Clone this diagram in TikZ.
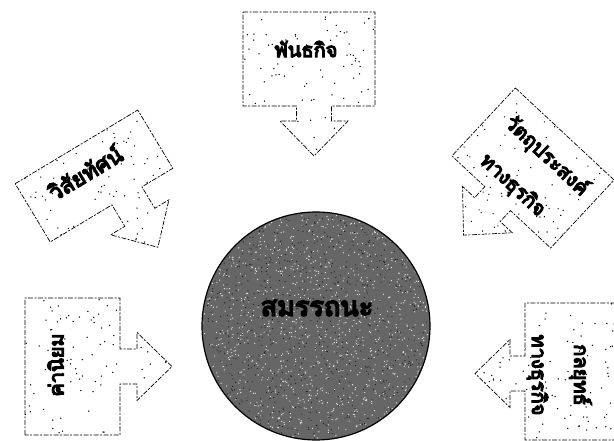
\documentclass[tikz,border=0pt]{standalone}
\usepackage{fontspec}
\newfontfamily\thaifont[Script=Thai, FakeBold=6]{Loma}
\tikzset{
  boxline/.style={draw=black, line width=0.7pt, dash pattern=on 5pt off 1.5pt on 2pt off 1.5pt},
  lbl/.style={font=\thaifont\fontsize{20}{22}\selectfont, inner sep=0pt},
  biglbl/.style={font=\thaifont\fontsize{27}{29}\selectfont, inner sep=0pt},
}
% #1 W, #2 H, #3 arrow offset, #4 shaft length
\newcommand\arrowpath[4]{({-(#1)/2},{(#2)/2}) -- ({(#1)/2},{(#2)/2}) -- ({(#1)/2},{-(#2)/2})
  -- ({(#3)+17.5},{-(#2)/2}) -- ({(#3)+17.5},{-(#2)/2-(#4)}) -- ({(#3)+34},{-(#2)/2-(#4)})
  -- ({#3},{-(#2)/2-(#4)-35}) -- ({(#3)-34},{-(#2)/2-(#4)}) -- ({(#3)-17.5},{-(#2)/2-(#4)})
  -- ({(#3)-17.5},{-(#2)/2}) -- ({-(#1)/2},{-(#2)/2}) -- cycle}
\newcommand\ArrowBox[4]{%
  \begin{scope}
    \clip \arrowpath{#1}{#2}{#3}{#4};
    \foreach \i in {1,...,110}{%
      \fill ({rand*(#1)/2},{-((#4)+35)/2+rand*((#2)/2+((#4)+35)/2)}) circle (0.75pt);}
  \end{scope}
  \draw[boxline] \arrowpath{#1}{#2}{#3}{#4};
}
\begin{document}
\begin{tikzpicture}[x=1pt,y=1pt]
\useasboundingbox (0,0) rectangle (614,441);
\pgfmathsetseed{4711}

% centre circle
\coordinate (core) at (316,115);
\fill[black!60] (core) circle (114pt);
\begin{scope}
  \clip (core) circle (113pt);
  \foreach \i in {1,...,1300}{\fill[white!92!black] ({316+rand*114},{115+rand*114}) circle (0.65pt);}
  \foreach \i in {1,...,900}{\fill[black!90] ({316+rand*114},{115+rand*114}) circle (0.6pt);}
\end{scope}
\draw[line width=1.2pt] (core) circle (114pt);
\node[biglbl] (coretext) at (317,133) {สมรรถนะ};

% top: mission
\begin{scope}[shift={(309,382)}, rotate=0, transform shape]
  \ArrowBox{132}{94}{5}{15}
  \node[lbl] (mission) at (-3,10) {พันธกิจ};
\end{scope}

% upper left: vision
\begin{scope}[shift={(94,265)}, rotate=31, transform shape]
  \ArrowBox{143}{68}{18}{25}
  \node[lbl, font=\thaifont\fontsize{22}{24}\selectfont] (vision) at (-6,8) {วิสัยทัศน์};
\end{scope}

% upper right: business objectives
\begin{scope}[shift={(533,273)}, rotate=-43, transform shape]
  \ArrowBox{135}{93}{-5}{15}
  \node[lbl] (objA) at (2,18) {วัตถุประสงค์};
  \node[lbl] (objB) at (-3,-27) {ทางธุรกิจ};
\end{scope}

% lower left: values
\begin{scope}[shift={(72.5,74.5)}, rotate=90, transform shape]
  \ArrowBox{137}{95}{0}{17}
  \node[lbl] (values) at (1.5,17) {ค่านิยม};
\end{scope}

% lower right: strategy
\begin{scope}[shift={(572.5,69.5)}, rotate=-90, transform shape]
  \ArrowBox{137}{95}{2}{15}
  \node[lbl] (stratA) at (3.5,8) {กลยุทธ์};
  \node[lbl] (stratB) at (3.5,-35) {ทางธุรกิจ};
\end{scope}
\end{tikzpicture}
\end{document}
